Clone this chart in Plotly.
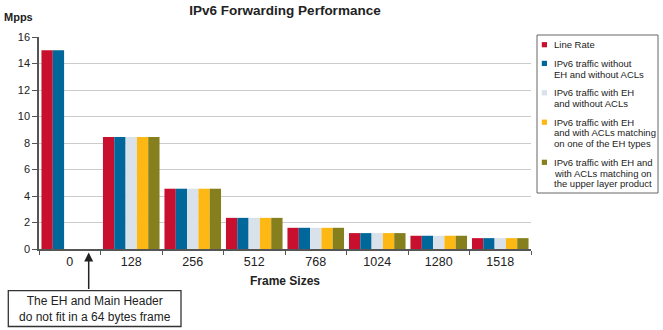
import plotly.graph_objects as go

# ---- data ----
frame_sizes = ["0", "128", "256", "512", "768", "1024", "1280", "1518"]
line_rate = [15.0, 8.45, 4.55, 2.35, 1.6, 1.2, 1.0, 0.82]
no_eh_no_acl = [15.0, 8.45, 4.55, 2.35, 1.6, 1.2, 1.0, 0.82]
eh_no_acl = [None, 8.45, 4.55, 2.35, 1.6, 1.2, 1.0, 0.82]
eh_acl_eh_types = [None, 8.45, 4.55, 2.35, 1.6, 1.2, 1.0, 0.82]
eh_acl_upper_layer = [None, 8.45, 4.55, 2.35, 1.6, 1.2, 1.0, 0.82]

series_names = [
    "Line Rate",
    "IPv6 traffic without\nEH and without ACLs",
    "IPv6 traffic with EH\nand without ACLs",
    "IPv6 traffic with EH\nand with ACLs matching\non one of the EH types",
    "IPv6 traffic with EH and\nwith ACLs matching on\nthe upper layer product",
]
series_values = [line_rate, no_eh_no_acl, eh_no_acl, eh_acl_eh_types, eh_acl_upper_layer]
colors = ["#C8102E", "#00679A", "#D9E2EA", "#FDB813", "#857F1E"]

title_text = "IPv6 Forwarding Performance"
y_title = "Mpps"
x_title = "Frame Sizes"
note_text = "The EH and Main Header<br>do not fit in a 64 bytes frame"

# ---- layout geometry ----
W, H = 663, 330
ML, MR, MT, MB = 39, 132, 37, 81
PW = W - ML - MR
PH = H - MT - MB


def px(x):
    return (x - ML) / PW


def py(y):
    return (H - MB - y) / PH


FONT = "Liberation Sans, Arial, sans-serif"
AXC = "#555555"

fig = go.Figure()
for name, vals, col in zip(series_names, series_values, colors):
    fig.add_trace(go.Bar(x=frame_sizes, y=vals, name=name.replace("\n", " "),
                         marker=dict(color=col, line=dict(width=0)),
                         showlegend=False))

shapes = []
annotations = []

# legend (manual, compact like the reference)
shapes.append(dict(type="rect", xref="paper", yref="paper",
                   x0=px(537), x1=px(658), y0=py(35), y1=py(193),
                   line=dict(color="#666666", width=1), fillcolor="white"))
line_h = 10.7
gap = 8.0
y_cur = 44.7
for name, col in zip(series_names, colors):
    lines = name.split("\n")
    shapes.append(dict(type="rect", xref="paper", yref="paper",
                       x0=px(541.8), x1=px(547.0), y0=py(y_cur - 2.6), y1=py(y_cur + 2.6),
                       line=dict(width=0), fillcolor=col))
    for k, ln in enumerate(lines):
        annotations.append(dict(text=ln, xref="paper", yref="paper",
                                x=px(551.5), y=py(y_cur + k * line_h),
                                xanchor="left", yanchor="middle", showarrow=False,
                                font=dict(size=9.5, color="#222222", family=FONT)))
    y_cur += len(lines) * line_h + gap

# y-axis unit label
annotations.append(dict(text="<b>" + y_title + "</b>", xref="paper", yref="paper",
                        x=px(1.5), y=py(17.5), xanchor="left", yanchor="middle",
                        showarrow=False, font=dict(size=11, color="#222222", family=FONT)))
# x-axis title
annotations.append(dict(text="<b>" + x_title + "</b>", xref="paper", yref="paper",
                        x=0.5, y=py(281), xanchor="center", yanchor="middle",
                        showarrow=False, font=dict(size=12, color="#222222", family=FONT)))
# note box
shapes.append(dict(type="rect", xref="paper", yref="paper",
                   x0=px(8.3), x1=px(181), y0=py(290.7), y1=py(326.5),
                   line=dict(color="#333333", width=1.3), fillcolor="white"))
annotations.append(dict(text=note_text, xref="paper", yref="paper",
                        x=px(94.7), y=py(308.6), xanchor="center", yanchor="middle",
                        showarrow=False, align="center",
                        font=dict(size=12, color="#222222", family=FONT)))
# arrow
annotations.append(dict(text="", xref="paper", yref="paper",
                        x=px(88.7), y=py(252.5), ax=0, ay=38,
                        showarrow=True, arrowhead=2, arrowsize=1.2, arrowwidth=1.5,
                        arrowcolor="#222222", standoff=0, startstandoff=0))

fig.update_layout(
    width=W, height=H,
    margin=dict(l=ML, r=MR, t=MT, b=MB, pad=0),
    paper_bgcolor="white", plot_bgcolor="white",
    barmode="group", bargap=0.08, bargroupgap=0,
    font=dict(family=FONT, color="#222222"),
    title=dict(text="<b>" + title_text + "</b>", x=0.5, xref="paper",
               y=1 - 10.5 / H, yref="container", yanchor="middle",
               font=dict(size=13.5, color="#222222", family=FONT)),
    xaxis=dict(type="category", showline=True, linecolor=AXC, linewidth=1.5,
               ticks="outside", tickson="boundaries", ticklen=4, tickcolor=AXC,
               tickwidth=1, showgrid=False, tickfont=dict(size=12.5, color="#222222"),
               fixedrange=True),
    yaxis=dict(range=[0, 16], dtick=2, showline=True, linecolor=AXC, linewidth=1.5,
               ticks="outside", ticklen=5, tickcolor=AXC, tickwidth=1,
               showgrid=True, gridcolor="#CCCCCC", gridwidth=1.2, zeroline=False,
               tickfont=dict(size=11, color="#222222"), fixedrange=True),
    shapes=shapes,
    annotations=annotations,
    showlegend=False,
)

fig.write_html("out.html")
